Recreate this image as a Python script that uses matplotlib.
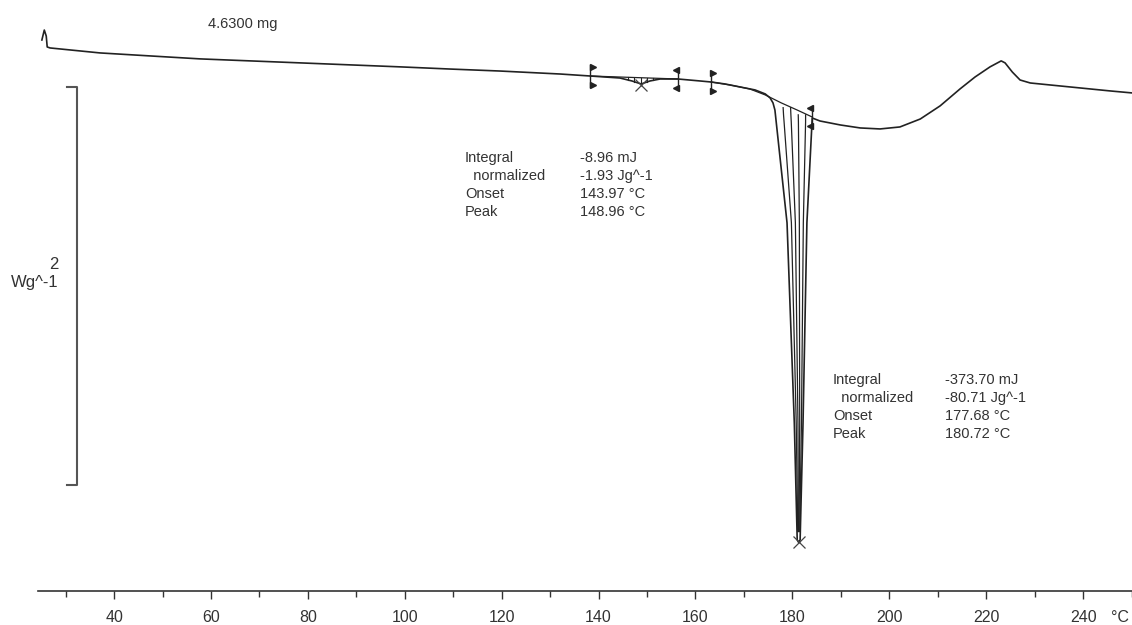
import numpy as np
import matplotlib
matplotlib.use("Agg")
import matplotlib.pyplot as plt

plt.rcParams['font.family'] = ['Liberation Sans', 'DejaVu Sans']

# DSC curve: temperature (°C) vs heat flow (W/g)
temp = [25.1, 25.6, 26.0, 26.2, 26.8, 37.1, 47.4, 57.8, 68.1, 78.4, 88.7, 99.0,
        109.4, 119.7, 132.1, 138.3, 144.4, 146.9, 148.8, 150.6, 152.7, 156.4,
        161.0, 163.2, 166.1, 169.2, 172.3, 174.4, 175.4, 176.0, 176.4, 178.9,
        180.4, 181.0, 181.3, 181.6, 182.2, 183.0, 184.1, 185.7, 189.9, 194.0,
        198.1, 202.2, 206.4, 210.5, 214.6, 217.7, 220.8, 223.1, 223.9, 225.4,
        227.0, 229.1, 233.2, 239.4, 245.6, 250.1]
heatflow = [0.54, 0.59, 0.56, 0.505, 0.50, 0.475, 0.46, 0.445, 0.435, 0.425,
            0.415, 0.405, 0.394, 0.384, 0.369, 0.359, 0.349, 0.334, 0.319,
            0.334, 0.344, 0.344, 0.334, 0.329, 0.319, 0.304, 0.289, 0.269,
            0.249, 0.224, 0.188, -0.379, -1.384, -1.972, -1.985, -1.972,
            -1.384, -0.379, 0.148, 0.133, 0.113, 0.098, 0.093, 0.103, 0.143,
            0.209, 0.294, 0.354, 0.405, 0.435, 0.425, 0.379, 0.339, 0.324,
            0.314, 0.299, 0.284, 0.274]

# integration baselines
small_base_temp = [138.3, 156.4]
small_base_hf = [0.359, 0.344]
big_base_temp = [163.2, 167.1, 171.2, 174.4, 177.7, 181.0, 184.1]
big_base_hf = [0.329, 0.314, 0.294, 0.264, 0.224, 0.188, 0.153]

# integration limit flags
flag_temp = [138.3, 156.4, 163.2, 184.1]
flag_hf = [0.359, 0.344, 0.329, 0.153]
flag_dir = ['>', '<', '>', '<']

# peak markers
peak_temp = [148.8, 181.3]
peak_hf = [0.314, -1.985]

small_hatch_temp = [146.0, 147.4, 148.8, 150.0, 151.2]
big_hatch_frac = [0.22, 0.42, 0.62, 0.82]

result1 = [("Integral", "-8.96 mJ"), ("  normalized", "-1.93 Jg^-1"),
           ("Onset", "143.97 °C"), ("Peak", "148.96 °C")]
result2 = [("Integral", "-373.70 mJ"), ("  normalized", "-80.71 Jg^-1"),
           ("Onset", "177.68 °C"), ("Peak", "180.72 °C")]

LINE = '#222222'
TXT = '#333333'

fig = plt.figure(figsize=(11.32, 6.25), dpi=100)
ax = fig.add_axes([38 / 1132, 34 / 625, 1 - 38 / 1132, 591 / 625])
ax.set_xlim(24.3, 250.1)
ax.set_ylim(-2.229, 0.741)

T = np.array(temp)
H = np.array(heatflow)
ax.plot(T, H, color=LINE, lw=1.2)

# baselines
ax.plot(small_base_temp, small_base_hf, color=LINE, lw=0.9)
ax.plot(big_base_temp, big_base_hf, color=LINE, lw=0.9)

# hatching in the small peak
for t in small_hatch_temp:
    y0 = np.interp(t, small_base_temp, small_base_hf)
    y1 = np.interp(t, T, H)
    ax.plot([t, t], [y0, y1], color=LINE, lw=0.8)

# hatching in the big peak
imin = int(np.argmin(H))
ileft = 30
iright = 38
lt, lh = T[ileft:imin + 1], H[ileft:imin + 1]
rt, rh = T[imin:iright + 1], H[imin:iright + 1]
levels = np.linspace(0.20, -1.93, 60)
for f in big_hatch_frac:
    xl = np.interp(levels, lh[::-1], lt[::-1])
    xr = np.interp(levels, rh, rt)
    xs = xl + f * (xr - xl)
    top = np.interp(xs[0], big_base_temp, big_base_hf)
    keep = levels <= top
    ax.plot(xs[keep], levels[keep], color=LINE, lw=0.9)

# flags at integration limits
for t, h, d in zip(flag_temp, flag_hf, flag_dir):
    ax.plot([t, t], [h - 0.055, h + 0.055], color=LINE, lw=1.0)
    dx = 0.45 if d == '>' else -0.45
    ax.plot([t + dx, t + dx], [h + 0.045, h - 0.045], linestyle='none',
            marker=d, ms=4.5, color=LINE)

ax.plot(peak_temp, peak_hf, linestyle='none', marker='x', ms=8,
        mew=0.9, color='#444444')

# scale bar (2 W/g)
ax.plot([30.3, 32.36, 32.36, 30.3], [0.304, 0.304, -1.696, -1.696],
        color='#555555', lw=1.5, clip_on=False)
ax.text(28.6, -0.59, "2", ha='right', va='center', fontsize=12, color=TXT)
ax.text(28.6, -0.681, "Wg^-1", ha='right', va='center', fontsize=12,
        color=TXT, clip_on=False)

ax.text(59.4, 0.621, "4.6300 mg", ha='left', va='center', fontsize=10.5,
        color=TXT)

# result blocks
rows1 = [-0.053, -0.143, -0.234, -0.324]
for (lab, val), y in zip(result1, rows1):
    ax.text(112.4, y, lab, ha='left', va='center', fontsize=10.5, color=TXT)
    ax.text(136.2, y, val, ha='left', va='center', fontsize=10.5, color=TXT)
rows2 = [-1.168, -1.259, -1.349, -1.440]
for (lab, val), y in zip(result2, rows2):
    ax.text(188.4, y, lab, ha='left', va='center', fontsize=10.5, color=TXT)
    ax.text(211.5, y, val, ha='left', va='center', fontsize=10.5, color=TXT)

# x axis
for s in ['left', 'top', 'right']:
    ax.spines[s].set_visible(False)
ax.spines['bottom'].set_color('#333333')
ax.spines['bottom'].set_linewidth(1.2)
ax.set_yticks([])
ax.set_xticks(np.arange(40, 241, 20))
ax.set_xticks(np.arange(30, 251, 20), minor=True)
ax.tick_params(axis='x', which='major', length=6, width=1, color='#333333',
               labelsize=11.5, labelcolor=TXT, pad=8)
ax.tick_params(axis='x', which='minor', length=4, width=1, color='#333333')
fig.text(1120 / 1132, 1 - 617 / 625, "°C", ha='center', va='center',
         fontsize=11.5, color=TXT)

fig.savefig("out.png", dpi=100)
